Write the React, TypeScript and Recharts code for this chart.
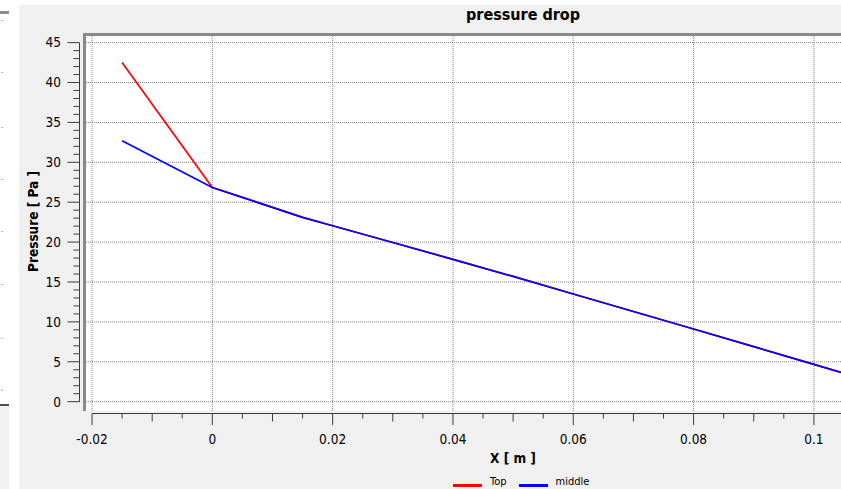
import React from "react";
import { LineChart, Line, XAxis, YAxis, ReferenceLine } from "recharts";

// axis labels and ranges
const X_TICK_LABELS = ["-0.02", "0", "0.02", "0.04", "0.06", "0.08", "0.1"];
const Y_TICK_LABELS = ["0", "5", "10", "15", "20", "25", "30", "35", "40", "45"];
const X_DOMAIN: [number, number] = [-0.021, 0.106];
const Y_DOMAIN: [number, number] = [-1.17, 45.83];

// pressure along X for both probes
const X_POS = [-0.015, 0, 0.005, 0.01, 0.015, 0.02, 0.03, 0.04, 0.05, 0.06, 0.07, 0.08, 0.09, 0.1, 0.106];
const TOP = [42.5, 26.85, 25.6, 24.35, 23.1, 22.05, 19.95, 17.84, 15.7, 13.5, 11.3, 9.1, 6.9, 4.68, 3.35];
const MIDDLE = [32.7, 26.85, 25.6, 24.35, 23.1, 22.05, 19.95, 17.84, 15.7, 13.5, 11.3, 9.1, 6.9, 4.68, 3.35];

const SERIES = [
  { key: "top", name: "Top", color: "#ff0000" },
  { key: "middle", name: "middle", color: "#0000ff" },
];

const data = X_POS.map((x, i) => ({ x, top: TOP[i], middle: MIDDLE[i] }));

const FONT = "'DejaVu Sans Condensed', 'DejaVu Sans', sans-serif";
const TICK_COLOR = "#3c3c3c";
const GRID_COLOR = "#808080";

// plot canvas in page pixels
const CHART_W = 860;
const CHART_H = 489;
const PLOT = { left: 86, top: 36, right: 850, bottom: 411 };
const X_AXIS_H = 40;
const Y_AXIS_W = 40;

type Kind = "major" | "medium" | "minor";

function subdivide(majors: number[], parts: number, mediumAt: number | null) {
  const out: { v: number; kind: Kind }[] = [];
  majors.forEach((a, i) => {
    out.push({ v: a, kind: "major" });
    const b = majors[i + 1];
    if (b === undefined) return;
    for (let k = 1; k < parts; k++) {
      out.push({ v: a + ((b - a) * k) / parts, kind: k === mediumAt ? "medium" : "minor" });
    }
  });
  return out;
}

const xMajors = X_TICK_LABELS.map(Number);
const yMajors = Y_TICK_LABELS.map(Number);
const xTicks = subdivide(xMajors, 4, 2);
const yTicks = subdivide(yMajors, 5, null);
const keyOf = (v: number) => v.toFixed(4);
const xKind = new Map(xTicks.map((t) => [keyOf(t.v), t.kind]));
const yKind = new Map(yTicks.map((t) => [keyOf(t.v), t.kind]));
const xLabel = new Map(xMajors.map((v, i) => [keyOf(v), X_TICK_LABELS[i]]));
const yLabel = new Map(yMajors.map((v, i) => [keyOf(v), Y_TICK_LABELS[i]]));

const X_LEN = { major: 11.5, medium: 8, minor: 5 };
const Y_LEN = { major: 12, medium: 9, minor: 6 };

function XTick(props: any) {
  const { x, y, payload } = props;
  const k = keyOf(payload.value);
  const kind = xKind.get(k) || "minor";
  const by = y + 2.5;
  return (
    <g>
      <line x1={x} x2={x} y1={by} y2={by + X_LEN[kind]} stroke={TICK_COLOR} strokeWidth={1} />
      {kind === "major" && (
        <text x={x} y={y + 32.5} textAnchor="middle" fontSize={13.5} fontFamily={FONT} fill="#000">
          {xLabel.get(k)}
        </text>
      )}
    </g>
  );
}

function YTick(props: any) {
  const { x, y, payload } = props;
  const k = keyOf(payload.value);
  const kind = yKind.get(k) || "minor";
  const bx = x - 6.5;
  return (
    <g>
      <line x1={bx} x2={bx - Y_LEN[kind]} y1={y} y2={y} stroke={TICK_COLOR} strokeWidth={1} />
      {kind === "major" && (
        <text x={x - 25} y={y} dy="0.36em" textAnchor="end" fontSize={13.5} fontFamily={FONT} fill="#000">
          {yLabel.get(k)}
        </text>
      )}
    </g>
  );
}

export default function App() {
  return (
    <div style={{ position: "absolute", left: 0, top: 0, width: 841, height: 489, overflow: "hidden", background: "#fff", fontFamily: FONT }}>
      {/* strip of the neighbouring widget on the far left */}
      <div style={{ position: "absolute", left: 0, top: 11, width: 9, height: 3, background: "#8c8c8c" }} />
      {[20, 72, 127, 179, 231, 284, 338, 390].map((t) => (
        <div key={t} style={{ position: "absolute", left: 1, top: t, width: 2, height: 1, background: "#b4b4b4" }} />
      ))}
      <div style={{ position: "absolute", left: 0, top: 404, width: 9, height: 85, background: "#f0f0f0", borderTop: "2px solid #505050" }} />

      {/* plot panel */}
      <div style={{ position: "absolute", left: 19, top: 5, right: 0, bottom: 0, background: "#f0f0f0" }} />
      <div
        style={{
          position: "absolute",
          left: PLOT.left - 3,
          top: PLOT.top - 3,
          width: PLOT.right - PLOT.left,
          height: PLOT.bottom - PLOT.top,
          background: "#fff",
          borderLeft: "3px solid #8a8a8a",
          borderTop: "3px solid #8a8a8a",
        }}
      />

      <div style={{ position: "absolute", left: 423, width: 200, top: 4, textAlign: "center", fontWeight: 700, fontSize: 16, lineHeight: "22px", fontStretch: "condensed" }}>
        pressure drop
      </div>

      <div style={{ position: "absolute", left: 0, top: 0 }}>
        <LineChart
          width={CHART_W}
          height={CHART_H}
          data={data}
          margin={{
            top: PLOT.top,
            left: PLOT.left - Y_AXIS_W,
            right: CHART_W - PLOT.right,
            bottom: CHART_H - PLOT.bottom - X_AXIS_H,
          }}
        >
          <XAxis
            dataKey="x"
            type="number"
            domain={X_DOMAIN}
            allowDataOverflow
            ticks={xTicks.map((t) => t.v)}
            interval={0}
            height={X_AXIS_H}
            tickSize={0}
            tickMargin={0}
            tickLine={false}
            axisLine={false}
            tick={XTick}
          />
          <YAxis
            type="number"
            domain={Y_DOMAIN}
            allowDataOverflow
            ticks={yTicks.map((t) => t.v)}
            interval={0}
            width={Y_AXIS_W}
            tickSize={0}
            tickMargin={0}
            tickLine={false}
            axisLine={false}
            tick={YTick}
          />
          {xMajors.map((v) => (
            <ReferenceLine key={"gx" + v} x={v} stroke={GRID_COLOR} strokeDasharray="1 1" strokeWidth={1} />
          ))}
          {yMajors.map((v) => (
            <ReferenceLine key={"gy" + v} y={v} stroke={GRID_COLOR} strokeDasharray="1 1" strokeWidth={1} />
          ))}
          {/* axis backbones, set off from the canvas edge */}
          <ReferenceLine
            segment={[{ x: xMajors[0], y: Y_DOMAIN[0] }, { x: X_DOMAIN[1], y: Y_DOMAIN[0] }]}
            shape={(p: any) => (
              <line x1={p.x1} x2={p.x2 + 20} y1={p.y1 + 2.5} y2={p.y2 + 2.5} stroke={TICK_COLOR} strokeWidth={1} />
            )}
          />
          <ReferenceLine
            segment={[{ x: X_DOMAIN[0], y: yMajors[0] }, { x: X_DOMAIN[0], y: yMajors[yMajors.length - 1] }]}
            shape={(p: any) => (
              <line x1={p.x1 - 6.5} x2={p.x2 - 6.5} y1={p.y1} y2={p.y2} stroke={TICK_COLOR} strokeWidth={1} />
            )}
          />
          {SERIES.map((s) => (
            <Line
              key={s.key}
              type="linear"
              dataKey={s.key}
              name={s.name}
              stroke={s.color}
              strokeWidth={1.7}
              dot={false}
              isAnimationActive={false}
            />
          ))}
        </LineChart>
      </div>

      {/* axis titles */}
      <div style={{ position: "absolute", left: 413, width: 200, top: 450, textAlign: "center", fontWeight: 700, fontSize: 13.5, lineHeight: "16px", whiteSpace: "pre", fontStretch: "condensed" }}>
        {"X [ m ]"}
      </div>
      <svg style={{ position: "absolute", left: 0, top: 0 }} width={60} height={489}>
        <text
          x={38}
          y={221.5}
          transform="rotate(-90 38 221.5)"
          textAnchor="middle"
          fontWeight={700}
          fontSize={13.5}
          fontFamily={FONT}
          fill="#000"
          style={{ whiteSpace: "pre" }}
        >
          {"Pressure [ Pa ]"}
        </text>
      </svg>

      {/* legend */}
      <div style={{ position: "absolute", left: 453, top: 475, display: "flex", alignItems: "flex-start" }}>
        {SERIES.map((s) => (
          <div key={s.key} style={{ display: "flex", alignItems: "flex-start", marginRight: 12 }}>
            <div style={{ width: 29, height: 3, marginTop: 9, background: s.color }} />
            <span style={{ marginLeft: 8, fontSize: 11, lineHeight: "13px", color: "#000" }}>{s.name}</span>
          </div>
        ))}
      </div>
    </div>
  );
}
